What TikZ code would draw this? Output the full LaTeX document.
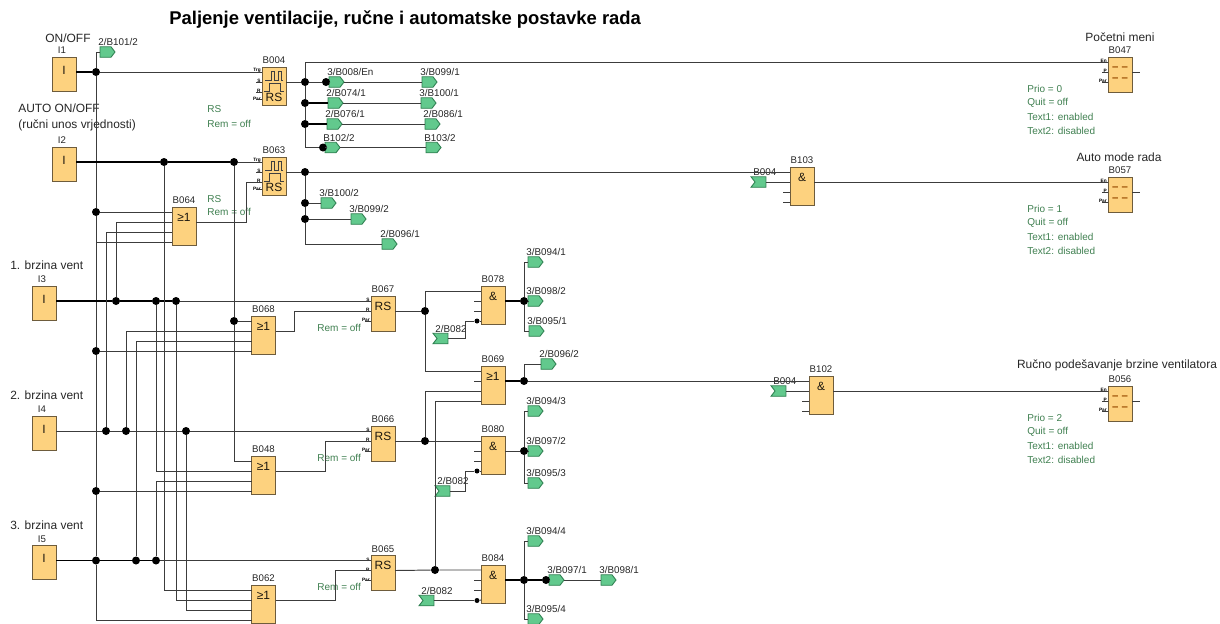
\documentclass[tikz,border=0pt]{standalone}
\usepackage{fontspec}
\setmainfont{Liberation Sans}
\usepackage{tikz}
\usetikzlibrary{positioning,shapes,shapes.symbols,arrows,arrows.meta}
\definecolor{blockfill}{HTML}{FDD27F}
\definecolor{blockline}{HTML}{6E5C3C}
\definecolor{tagfill}{HTML}{62C98D}
\definecolor{tagline}{HTML}{2E7F50}
\definecolor{notegreen}{HTML}{3F7F50}
\definecolor{wirecol}{HTML}{3C3C3C}
\tikzset{
	wire/.style={draw=wirecol, line width=0.55pt},
	heavy/.style={draw=black, line width=0.85pt},
	fbox/.style={rectangle, draw=blockline, fill=blockfill, line width=0.5pt, inner sep=0pt, outer sep=0pt, minimum width=0.48cm},
	fbsym/.style={inner sep=0pt, text=black!75!blockline, font=\fontsize{6.8}{8}\selectfont},
	fbdash/.style={inner sep=0pt, text=black!40!orange, font=\fontsize{6.5}{7}\bfseries\selectfont},
	fbname/.style={inner sep=0pt, text=black!85, font=\fontsize{5.5}{6.5}\selectfont},
	pinname/.style={inner sep=0pt, anchor=south east, font=\fontsize{2.7}{3}\bfseries\selectfont},
	caption/.style={inner sep=0pt, text=black!85, font=\fontsize{6.8}{8}\selectfont},
	note/.style={inner sep=0pt, anchor=west, text=notegreen, font=\fontsize{5.7}{7}\selectfont},
	tagname/.style={inner sep=0pt, anchor=west, text=black!85, font=\fontsize{5.6}{6.5}\selectfont},
	outtag/.style={shape=signal, signal to=east, signal from=nowhere, signal pointer angle=105, draw=tagline, fill=tagfill, line width=0.5pt, inner sep=0pt, outer sep=0pt, minimum width=0.3cm, minimum height=0.21cm},
	intag/.style={shape=signal, signal from=west, signal to=nowhere, signal pointer angle=105, draw=tagline, fill=tagfill, line width=0.5pt, inner sep=0pt, outer sep=0pt, minimum width=0.3cm, minimum height=0.21cm},
	dot/.style={circle, fill=black, inner sep=0pt, minimum size=0.16cm},
	smalldot/.style={circle, fill=black, inner sep=0pt, minimum size=0.1cm},
}
\newcommand{\fblock}[5]{
	\node[fbox, minimum height=#4*0.02cm] (#1) at (#2+12, #3+#4/2) {};
	\node[fbname] (#1n) at (#2+12, #3-6.5) {#1};
	\node[fbsym] (#1s) at (#2+12, #3+10) {#5};
	\coordinate (#1p1) at (#2, #3+5);
	\coordinate (#1p2) at (#2, #3+15);
	\coordinate (#1p3) at (#2, #3+25);
	\coordinate (#1p4) at (#2, #3+35);
	\coordinate (#1o) at (#2+24, #3+15);
}
\newcommand{\inblock}[4]{
	\node[fbox, minimum height=0.68cm] (#1) at (#2+12, #3+17) {};
	\node[fbname] (#1n) at (#2+10, #3-6.5) {#1};
	\node[fbsym] (#1s) at (#2+12, #3+13) {I};
	\coordinate (#1o) at (#2+24, #3+15);
}
\newcommand{\otag}[4]{
	\node[outtag] (#1) at (#2+7.5, #3) {};
	\node[tagname] (#1n) at (#2, #3-10) {#4};
}
\newcommand{\itag}[4]{
	\node[intag] (#1) at (#2+7.5, #3) {};
	\node[tagname] (#1n) at (#2, #3-10) {#4};
}
\newcommand{\pinset}[5]{
	\node[pinname] (#1l1) at ([shift={(-1,1)}]#1p1) {#2};
	\node[pinname] (#1l2) at ([shift={(-1,1)}]#1p2) {#3};
	\node[pinname] (#1l3) at ([shift={(-1,1)}]#1p3) {#4};
	\draw[wire] (#1p1) -- ++(-6,0) (#1p2) -- ++(-6,0) (#1p3) -- ++(-6,0);
	\ifx&#5&\else
		\node[pinname] (#1l4) at ([shift={(-1,-1)}]#1p4) {#5};
		\draw[wire] ([yshift=1.7pt]#1p4) -- ++(-6,0);
	\fi
}
\newcommand{\pulses}[1]{
	\draw[line width=0.45pt, draw=black!75] ([shift={(3,13)}]#1.north west) -- ++(6,0) -- ++(0,-9) -- ++(3,0) -- ++(0,9) -- ++(4,0) -- ++(0,-9) -- ++(3,0) -- ++(0,9) -- ++(2,0);
	\draw[line width=0.45pt, draw=black!75] ([shift={(2,24)}]#1.north west) -- ++(5,0) -- ++(0,-8) -- ++(11,0) -- ++(0,8) -- ++(4,0);
}
\newcommand{\msgnotes}[3]{
	\node[note] (#1a) at (1027, #2) {Prio = #3};
	\node[note] (#1b) at (1027, #2+14) {Quit = off};
	\node[note] (#1c) at (1027, #2+28) {Text1: enabled};
	\node[note] (#1d) at (1027, #2+42) {Text2: disabled};
}

\begin{document}
\begin{tikzpicture}[x=0.02cm, y=-0.02cm]
	\useasboundingbox (0,0) rectangle (1220,623);

	\node[inner sep=0pt, anchor=west, font=\fontsize{10.5}{12}\bfseries\selectfont] (title) at (169, 20) {Paljenje ventilacije, ručne i automatske postavke rada};

	\inblock{I1}{52}{57}{}
	\inblock{I2}{52}{147}{}
	\inblock{I3}{32}{286}{}
	\inblock{I4}{32}{416}{}
	\inblock{I5}{32}{545.5}{}
	\node[caption] (onoff) at (68, 38) {ON/OFF};
	\node[caption, anchor=west] (auto) at (18, 108) {AUTO ON/OFF};
	\node[caption, anchor=west] (rucni) at (18, 125) {(ručni unos vrjednosti)};
	\node[caption, anchor=west] (v1) at (10, 265) {1. brzina vent};
	\node[caption, anchor=west] (v2) at (10, 395) {2. brzina vent};
	\node[caption, anchor=west] (v3) at (10, 525) {3. brzina vent};

	\fblock{B004}{262}{67}{38}{}
	\fblock{B063}{262}{157}{38}{}
	\pinset{B004}{Trg}{S}{R}{Par}
	\pinset{B063}{Trg}{S}{R}{Par}
	\pulses{B004}
	\pulses{B063}
	\node[fbsym] (B004t) at (274, 97) {RS};
	\node[fbsym] (B063t) at (274, 187) {RS};

	\fblock{B064}{172}{207}{38}{≥1}
	\fblock{B068}{251.5}{316}{38}{≥1}
	\fblock{B048}{251.5}{456}{38}{≥1}
	\fblock{B062}{251.5}{585}{38}{≥1}

	\fblock{B067}{371}{296}{35}{RS}
	\fblock{B066}{371}{426}{35}{RS}
	\fblock{B065}{371}{555.5}{35}{RS}
	\pinset{B067}{S}{R}{Par}{}
	\pinset{B066}{S}{R}{Par}{}
	\pinset{B065}{S}{R}{Par}{}

	\fblock{B078}{481}{286}{38}{\&}
	\fblock{B069}{481}{366}{38}{≥1}
	\fblock{B080}{481}{436}{38}{\&}
	\fblock{B084}{481}{565}{38}{\&}
	\fblock{B103}{790}{167}{38}{\&}
	\fblock{B102}{809}{376}{38}{\&}

	\fblock{B047}{1108}{57}{35}{}
	\fblock{B057}{1108}{177}{35}{}
	\fblock{B056}{1108}{386}{35}{}
	\pinset{B047}{En}{P}{Par}{}
	\pinset{B057}{En}{P}{Par}{}
	\pinset{B056}{En}{P}{Par}{}
	\node[fbdash] (B047d1) at (1120, 69) {-- --};
	\node[fbdash] (B047d2) at (1120, 80) {-- --};
	\node[fbdash] (B057d1) at (1120, 189) {-- --};
	\node[fbdash] (B057d2) at (1120, 200) {-- --};
	\node[fbdash] (B056d1) at (1120, 398) {-- --};
	\node[fbdash] (B056d2) at (1120, 409) {-- --};
	\node[caption] (pocetni) at (1120, 37) {Početni meni};
	\node[caption] (automode) at (1119, 157) {Auto mode rada};
	\node[caption] (rucno) at (1117, 365) {Ručno podešavanje brzine ventilatora};
	\msgnotes{N0}{89}{0}
	\msgnotes{N1}{209}{1}
	\msgnotes{N2}{418}{2}

	\node[note] (rs1) at (207, 109) {RS};
	\node[note] (rem1) at (207, 124) {Rem = off};
	\node[note] (rs2) at (207, 199) {RS};
	\node[note] (rem2) at (207, 212) {Rem = off};
	\node[note] (rem3) at (317, 328) {Rem = off};
	\node[note] (rem4) at (317, 458) {Rem = off};
	\node[note] (rem5) at (317, 587) {Rem = off};

	\otag{TB101}{98}{52}{2/B101/2}
	\otag{TB008}{327}{82}{3/B008/En}
	\otag{TB099a}{420}{82}{3/B099/1}
	\otag{TB074}{326}{103}{2/B074/1}
	\otag{TB100a}{419}{103}{3/B100/1}
	\otag{TB076}{325}{124}{2/B076/1}
	\otag{TB086}{423}{124}{2/B086/1}
	\otag{TB102}{323}{147.5}{B102/2}
	\otag{TB103}{424}{147.5}{B103/2}
	\otag{TB100b}{319}{203}{3/B100/2}
	\otag{TB099b}{349}{219}{3/B099/2}
	\otag{TB096a}{380}{244}{2/B096/1}
	\otag{TB094a}{526}{262}{3/B094/1}
	\otag{TB098b}{526}{301}{3/B098/2}
	\otag{TB095a}{527}{331}{3/B095/1}
	\otag{TB096b}{539}{364}{2/B096/2}
	\otag{TB094c}{526}{411}{3/B094/3}
	\otag{TB097b}{526}{451}{3/B097/2}
	\otag{TB095c}{526}{483}{3/B095/3}
	\otag{TB094d}{526}{541}{3/B094/4}
	\otag{TB097a}{547}{580}{3/B097/1}
	\otag{TB098a}{599}{580}{3/B098/1}
	\otag{TB095d}{526}{619}{3/B095/4}
	\itag{TB082a}{435}{338.5}{2/B082}
	\itag{TB082b}{437}{491}{2/B082}
	\itag{TB082c}{421}{600.5}{2/B082}
	\itag{TB004a}{753}{182}{B004}
	\itag{TB004b}{773}{391}{B004}

	\node[dot] (D96a) at (96, 72) {};
	\node[dot] (D96b) at (96, 212) {};
	\node[dot] (D96c) at (96, 351) {};
	\node[dot] (D96d) at (96, 491) {};
	\node[dot] (D96e) at (96, 560.5) {};
	\node[dot] (D164) at (164, 162) {};
	\node[dot] (D234a) at (234, 162) {};
	\node[dot] (D234b) at (234, 321) {};
	\node[dot] (D116) at (116, 301) {};
	\node[dot] (D156a) at (156, 301) {};
	\node[dot] (D176) at (176, 301) {};
	\node[dot] (D106) at (106, 431) {};
	\node[dot] (D126) at (126, 431) {};
	\node[dot] (D186) at (186, 431) {};
	\node[dot] (D136) at (136, 560.5) {};
	\node[dot] (D156b) at (156, 560.5) {};
	\node[dot] (D305a) at (305, 82) {};
	\node[dot] (D305b) at (305, 103) {};
	\node[dot] (D305c) at (305, 124) {};
	\node[dot] (D326) at (326, 82) {};
	\node[dot] (D323) at (323, 147.5) {};
	\node[dot] (D305d) at (305, 172) {};
	\node[dot] (D305e) at (305, 203) {};
	\node[dot] (D305f) at (305, 219) {};
	\node[dot] (D425a) at (425, 311) {};
	\node[dot] (D425b) at (425, 441) {};
	\node[dot] (D435) at (435, 570) {};
	\node[dot] (D524a) at (524, 301) {};
	\node[dot] (D524b) at (524, 381) {};
	\node[dot] (D524c) at (524, 451) {};
	\node[dot] (D524d) at (524, 580) {};
	\node[dot] (D546) at (546, 580) {};
	\node[smalldot] (S078) at (477, 321) {};
	\node[smalldot] (S080) at (477, 471) {};
	\node[smalldot] (S084) at (477, 600.5) {};

	\coordinate (K064) at (246, 222);
	\coordinate (K068) at (294, 331);
	\coordinate (K048) at (325, 471);
	\coordinate (K062) at (335, 600);
	\coordinate (K078) at (465, 338.5);
	\coordinate (K080) at (465, 491);

	\draw[wire] (TB101) -| (D96a) -- (D96b) -- (D96c) -- (D96d) -- (D96e) |- (B062p4);
	\draw[heavy] (I1o) -- (D96a);
	\draw[wire] (D96a) -- (B004p1);
	\draw[heavy] (I2o) -- (D164) -- (D234a);
	\draw[wire] (D234a) -- (B063p1);
	\draw[heavy] (I3o) -- (D116) -- (D156a) -- (D176);
	\draw[wire] (D176) -- (B067p1);
	\draw[wire] (I4o) -- (D106) -- (D126) -- (D186) -- (B066p1);
	\draw[heavy] (I5o) -- (D96e) -- (D136) -- (D156b);
	\draw[wire] (D156b) -- (B065p1);

	\draw[wire] (D96b) -- (B064p1);
	\draw[wire] (D116) |- (B064p2);
	\draw[wire] (D106) |- (B064p3);
	\draw[wire] (D96c |- B064p4) -- (B064p4);
	\draw[wire] (D234b) -- (B068p1);
	\draw[wire] (D126) |- (B068p2);
	\draw[wire] (D136) |- (B068p3);
	\draw[wire] (D96c) -- (B068p4);
	\draw[wire] (D234a) -- (D234b) |- (B048p1);
	\draw[wire] (D156a) |- (B048p2);
	\draw[wire] (D156b) |- (B048p3);
	\draw[wire] (D96d) -- (B048p4);
	\draw[wire] (D164) |- (B062p1);
	\draw[wire] (D176) |- (B062p2);
	\draw[wire] (D186) |- (B062p3);

	\draw[wire] (B064o) -- (K064) |- (B063p3);
	\draw[wire] (B068o) -- (K068) |- (B067p2);
	\draw[wire] (B048o) -- (K048) |- (B066p2);
	\draw[wire] (B062o) -- (K062) |- (B065p2);

	\draw[wire] (B004o) -- (D305a) -- (D326) -- (TB008) -- (TB099a);
	\draw[wire] (D305a) |- (B047p1);
	\draw[wire] (D305a) -- (D305b) -- (D305c) |- (D323) -- (TB102) -- (TB103);
	\draw[heavy] (D305b) -- (TB074);
	\draw[wire] (TB074) -- (TB100a);
	\draw[heavy] (D305c) -- (TB076);
	\draw[wire] (TB076) -- (TB086);
	\draw[wire] (B063o) -- (D305d) -- (B103p1);
	\draw[wire] (D305d) -- (D305e) -- (D305f) |- (TB096a);
	\draw[wire] (D305e) -- (TB100b);
	\draw[wire] (D305f) -- (TB099b);
	\draw[wire] (TB004a) -- (B103p2);
	\draw[wire] (B103o) -- (B057p1);

	\draw[wire] (B067o) -- (D425a);
	\draw[wire] (D425a) |- (B078p1);
	\draw[wire] (D425a) |- (B069p1);
	\draw[wire] (D425b) |- (B069p3);
	\draw[wire] (D435) |- (B069p4);
	\draw[wire] (B066o) -- (D425b) -- (B080p1);
	\draw[wire] (B065o) -- (D435) -- (B084p1);
	\draw[wire] (TB082a) -- (K078) |- (S078) -- (B078p4);
	\draw[wire] (TB082b) -- (K080) |- (S080) -- (B080p4);
	\draw[wire] (TB082c) -- (S084) -- (B084p4);

	\draw[heavy] (B078o) -- (D524a);
	\draw[wire] (D524a) -- (TB098b);
	\draw[wire] (D524a) |- (TB094a);
	\draw[wire] (D524a) |- (TB095a);
	\draw[heavy] (B069o) -- (D524b);
	\draw[wire] (D524b) -- (B102p1);
	\draw[wire] (D524b) |- (TB096b);
	\draw[wire] (B080o) -- (D524c) -- (TB097b);
	\draw[wire] (D524c) |- (TB094c);
	\draw[wire] (D524c) |- (TB095c);
	\draw[heavy] (B084o) -- (D524d) -- (D546);
	\draw[wire] (D546) -- (TB097a) -- (TB098a);
	\draw[wire] (D524d) |- (TB094d);
	\draw[wire] (D524d) |- (TB095d);
	\draw[wire] (TB004b) -- (B102p2);
	\draw[wire] (B102o) -- (B056p1);

	\draw[wire] (B069p2) -- ++(-7,0);
	\draw[wire] (B078p2) -- ++(-7,0) (B078p3) -- ++(-7,0);
	\draw[wire] (B080p2) -- ++(-7,0) (B080p3) -- ++(-7,0);
	\draw[wire] (B084p2) -- ++(-7,0) (B084p3) -- ++(-7,0);
	\draw[wire] (B103p3) -- ++(-7,0) (B103p4) -- ++(-7,0);
	\draw[wire] (B102p3) -- ++(-7,0) (B102p4) -- ++(-7,0);
	\draw[wire] (B047o) -- ++(8,0);
	\draw[wire] (B057o) -- ++(8,0);
	\draw[wire] (B056o) -- ++(8,0);
\end{tikzpicture}
\end{document}
